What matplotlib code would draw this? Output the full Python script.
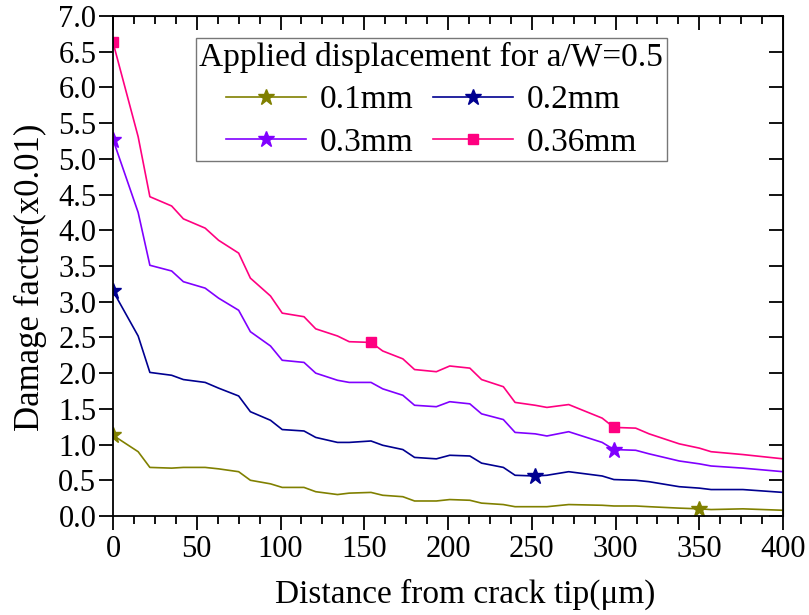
import matplotlib
matplotlib.use("Agg")
import matplotlib.pyplot as plt
from matplotlib.ticker import MultipleLocator

plt.rcParams['font.family'] = ['Liberation Serif', 'DejaVu Serif']

# distance from crack tip (um)
x = [0, 15, 22, 35, 42, 55, 63, 75, 82, 94, 101, 114, 121, 134, 141, 154, 161, 173, 180,
     193, 201, 213, 220, 233, 240, 252, 259, 272, 292, 299, 312, 320, 338, 350, 357, 376, 400]

d01 = [1.13, 0.90, 0.68, 0.67, 0.68, 0.68, 0.66, 0.62, 0.50, 0.45, 0.40, 0.40, 0.34, 0.30, 0.32,
       0.33, 0.29, 0.27, 0.21, 0.21, 0.23, 0.22, 0.18, 0.16, 0.13, 0.13, 0.13, 0.16, 0.15, 0.14,
       0.14, 0.13, 0.11, 0.10, 0.09, 0.10, 0.08]
d02 = [3.15, 2.52, 2.01, 1.97, 1.91, 1.87, 1.79, 1.68, 1.46, 1.34, 1.21, 1.19, 1.10, 1.03, 1.03,
       1.05, 0.99, 0.93, 0.82, 0.80, 0.85, 0.84, 0.74, 0.68, 0.57, 0.56, 0.57, 0.62, 0.56, 0.51,
       0.50, 0.48, 0.41, 0.39, 0.37, 0.37, 0.33]
d03 = [5.27, 4.25, 3.51, 3.43, 3.28, 3.19, 3.05, 2.88, 2.58, 2.38, 2.18, 2.15, 2.00, 1.90, 1.87,
       1.87, 1.78, 1.69, 1.55, 1.53, 1.60, 1.57, 1.43, 1.35, 1.17, 1.15, 1.12, 1.18, 1.03, 0.93,
       0.92, 0.87, 0.77, 0.73, 0.70, 0.67, 0.62]
d036 = [6.63, 5.31, 4.47, 4.34, 4.16, 4.03, 3.86, 3.68, 3.33, 3.08, 2.84, 2.79, 2.62, 2.52, 2.44,
        2.43, 2.31, 2.20, 2.05, 2.02, 2.10, 2.07, 1.91, 1.81, 1.59, 1.55, 1.52, 1.56, 1.37, 1.24,
        1.23, 1.15, 1.01, 0.95, 0.90, 0.86, 0.80]

labels = ['0.1mm', '0.2mm', '0.3mm', '0.36mm']

fig = plt.figure(figsize=(8.09, 6.15), dpi=100)
ax = fig.add_axes([0.1397, 0.161, 0.8283, 0.813])

l1, = ax.plot(x, d01, color='#808000', lw=1.2, marker='*', ms=12, markevery=[0, 33], label=labels[0])
l2, = ax.plot(x, d02, color='#000090', lw=1.2, marker='*', ms=12, markevery=[0, 25], label=labels[1])
l3, = ax.plot(x, d03, color='#8000FF', lw=1.2, marker='*', ms=12, markevery=[0, 29], label=labels[2])
l4, = ax.plot(x, d036, color='#FF0080', lw=1.2, marker='s', ms=7, markevery=[0, 15, 29], label=labels[3])

ax.set_xlim(0, 400)
ax.set_ylim(0, 7.0)
ax.xaxis.set_major_locator(MultipleLocator(50))
ax.xaxis.set_minor_locator(MultipleLocator(12.5))
ax.yaxis.set_major_locator(MultipleLocator(0.5))
ax.yaxis.set_major_formatter(plt.FormatStrFormatter('%.1f'))

ax.tick_params(which='both', direction='out', width=1.3, labelsize=22, top=False, right=False)
ax.tick_params(which='major', length=10)
ax.tick_params(which='minor', length=6)
ax.tick_params(axis='y', pad=2)
for s in ax.spines.values():
    s.set_linewidth(1.3)

# inward ticks on top and right, as in the original
sec_x = ax.secondary_xaxis('top')
sec_x.xaxis.set_major_locator(MultipleLocator(50))
sec_x.xaxis.set_minor_locator(MultipleLocator(12.5))
sec_x.tick_params(which='both', direction='in', width=1.3, labeltop=False)
sec_x.tick_params(which='major', length=10)
sec_x.tick_params(which='minor', length=6)
sec_y = ax.secondary_yaxis('right')
sec_y.yaxis.set_major_locator(MultipleLocator(0.5))
sec_y.tick_params(which='both', direction='in', width=1.3, length=10, labelright=False)

ax.set_xlabel('Distance from crack tip(\u03bcm)', fontsize=24)
ax.set_ylabel('Damage factor(x0.01)', fontsize=25)
ax.xaxis.set_label_coords(0.525, -0.125)
ax.yaxis.set_label_coords(-0.098, 0.478)

# column-major fill: order so rows read 0.1/0.2 then 0.3/0.36
leg = ax.legend([l1, l3, l2, l4], [labels[0], labels[2], labels[1], labels[3]], ncol=2,
                title='Applied displacement for a/W=0.5', fontsize=24,
                title_fontsize=24, loc='upper left', bbox_to_anchor=(0.124, 0.955),
                frameon=True, fancybox=False, edgecolor='#555555', handlelength=2.4,
                handletextpad=0.4, columnspacing=0.6, labelspacing=0.36, borderpad=0.1,
                borderaxespad=0)
leg.get_frame().set_linewidth(1.0)

fig.savefig('out.png', dpi=100)
